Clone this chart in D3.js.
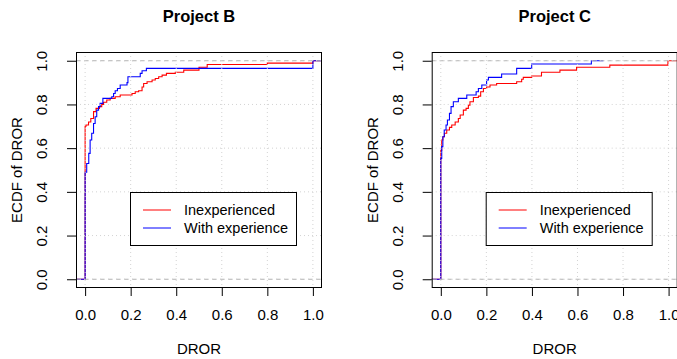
<!DOCTYPE html>
<html>
<head>
<meta charset="utf-8">
<script src="https://cdn.jsdelivr.net/npm/d3@7"></script>
<style>
body { margin: 0; background: #fff; }
svg { display: block; font-family: "Liberation Sans", Arial, sans-serif; }
.tick-label { font-size: 15px; fill: #000; }
.axis-title { font-size: 15px; fill: #000; }
.main-title { font-size: 16.5px; font-weight: bold; fill: #000; }
.leg-text { font-size: 14.5px; fill: #000; }
</style>
</head>
<body>
<svg width="677" height="359"></svg>
<script>
// step positions (DROR) and ECDF level after each step
const projB_inexp_x = [0, 0.004, 0.015, 0.025, 0.037, 0.048, 0.063, 0.073, 0.081, 0.095, 0.11, 0.132, 0.154, 0.206, 0.22, 0.235, 0.25, 0.257, 0.272, 0.294, 0.308, 0.323, 0.338, 0.357, 0.396, 0.433, 0.50, 0.536, 0.80, 1.0]
const projB_inexp_f = [0.70, 0.706, 0.72, 0.736, 0.767, 0.782, 0.79, 0.80, 0.81, 0.82, 0.828, 0.835, 0.843, 0.85, 0.858, 0.863, 0.88, 0.896, 0.904, 0.912, 0.919, 0.927, 0.934, 0.942, 0.947, 0.957, 0.97, 0.983, 0.989, 1.0]
const projB_exp_x = [0, 0.007, 0.016, 0.022, 0.029, 0.037, 0.044, 0.051, 0.059, 0.066, 0.078, 0.117, 0.125, 0.132, 0.142, 0.154, 0.184, 0.188, 0.242, 0.25, 0.269, 1.0]
const projB_exp_f = [0.49, 0.53, 0.576, 0.637, 0.668, 0.713, 0.744, 0.774, 0.79, 0.805, 0.828, 0.835, 0.85, 0.863, 0.873, 0.889, 0.90, 0.927, 0.942, 0.954, 0.965, 1.0]

const projC_inexp_x = [0, 0.004, 0.009, 0.016, 0.026, 0.038, 0.048, 0.063, 0.077, 0.085, 0.099, 0.111, 0.121, 0.128, 0.143, 0.165, 0.175, 0.187, 0.201, 0.216, 0.245, 0.333, 0.355, 0.362, 0.399, 0.442, 0.523, 0.596, 0.742, 0.997]
const projC_inexp_f = [0.59, 0.637, 0.652, 0.668, 0.683, 0.695, 0.706, 0.72, 0.736, 0.752, 0.774, 0.782, 0.797, 0.812, 0.832, 0.838, 0.858, 0.873, 0.88, 0.889, 0.896, 0.904, 0.915, 0.924, 0.93, 0.947, 0.957, 0.97, 0.98, 1.0]
const projC_exp_x = [0, 0.004, 0.009, 0.015, 0.023, 0.029, 0.038, 0.045, 0.055, 0.077, 0.114, 0.155, 0.165, 0.18, 0.201, 0.209, 0.267, 0.333, 0.399, 0.661]
const projC_exp_f = [0.553, 0.607, 0.652, 0.683, 0.706, 0.729, 0.759, 0.79, 0.812, 0.828, 0.843, 0.858, 0.873, 0.889, 0.912, 0.924, 0.939, 0.965, 0.985, 1.0]

const ticks = [0, 0.2, 0.4, 0.6, 0.8, 1.0]
const seriesNames = ['Inexperienced', 'With experience']
const seriesColors = ['#ff0000', '#0000ff']

const panels = [
	{title: 'Project B', left: 76, series: [[projB_inexp_x, projB_inexp_f], [projB_exp_x, projB_exp_f]]},
	{title: 'Project C', left: 431.7, series: [[projC_inexp_x, projC_inexp_f], [projC_exp_x, projC_exp_f]]}
]

const plotW = 246, plotTop = 52, plotBottom = 288

const svg = d3.select('svg')

panels.forEach((p, pi) => {
	const x = d3.scaleLinear().domain([-0.04, 1.04]).range([p.left, p.left + plotW])
	const y = d3.scaleLinear().domain([-0.04, 1.04]).range([plotBottom, plotTop])
	const g = svg.append('g')

	g.append('clipPath').attr('id', 'clip' + pi)
		.append('rect')
		.attr('x', p.left).attr('y', plotTop)
		.attr('width', plotW).attr('height', plotBottom - plotTop)

	// ecdf step curves
	const line = d3.line()
		.curve(d3.curveStepAfter)
		.x(d => x(d[0]))
		.y(d => y(d[1]))
	p.series.forEach((s, si) => {
		const xs = s[0], fs = s[1]
		const dr = 0.08 * (d3.max(xs) - d3.min(xs))
		const pts = [[xs[0] - dr, 0]]
		xs.forEach((v, i) => pts.push([v, fs[i]]))
		pts.push([d3.max(xs) + dr, fs[fs.length - 1]])
		g.append('path')
			.attr('clip-path', `url(#clip${pi})`)
			.attr('d', line(pts))
			.attr('fill', 'none')
			.attr('stroke', seriesColors[si])
			.attr('stroke-width', 1.1)
	})

	// h lines at 0 and 1
	g.selectAll('.hl').data([0, 1]).enter().append('line')
		.attr('clip-path', `url(#clip${pi})`)
		.attr('x1', p.left).attr('x2', p.left + plotW)
		.attr('y1', d => y(d)).attr('y2', d => y(d))
		.attr('stroke', '#b3b3b3')
		.attr('stroke-dasharray', '4,4')

	// grid
	g.selectAll('.gx').data(ticks).enter().append('line')
		.attr('x1', d => x(d)).attr('x2', d => x(d))
		.attr('y1', plotTop).attr('y2', plotBottom)
		.attr('stroke', '#d3d3d3')
		.attr('stroke-dasharray', '1,3')
	g.selectAll('.gy').data(ticks).enter().append('line')
		.attr('x1', p.left).attr('x2', p.left + plotW)
		.attr('y1', d => y(d)).attr('y2', d => y(d))
		.attr('stroke', '#d3d3d3')
		.attr('stroke-dasharray', '1,3')

	// box
	g.append('rect')
		.attr('x', p.left + 0.5).attr('y', plotTop + 0.5)
		.attr('width', plotW - 1).attr('height', plotBottom - plotTop - 1)
		.attr('fill', 'none')
		.attr('stroke', '#000')

	// x axis
	const xa = g.append('g')
		.attr('transform', `translate(0,${plotBottom})`)
		.call(d3.axisBottom(x).tickValues(ticks).tickFormat(d3.format('.1f')).tickSize(8).tickSizeOuter(0))
	xa.select('.domain').remove()
	xa.attr('font-size', null).attr('font-family', null)
	xa.selectAll('text').attr('class', 'tick-label').attr('y', 32).attr('dy', null).attr('fill', null)

	// y axis
	const ya = g.append('g')
		.attr('transform', `translate(${p.left},0)`)
		.call(d3.axisLeft(y).tickValues(ticks).tickFormat(d3.format('.1f')).tickSize(9).tickSizeOuter(0))
	ya.select('.domain').remove()
	ya.attr('font-size', null).attr('font-family', null)
	ya.selectAll('text')
		.attr('class', 'tick-label')
		.attr('x', null).attr('dy', null).attr('fill', null)
		.attr('text-anchor', 'middle')
		.attr('transform', 'translate(-29,0) rotate(-90)')
	svg.selectAll('.tick line').attr('stroke', '#000')

	// titles
	g.append('text').attr('class', 'main-title')
		.attr('x', p.left + plotW / 2).attr('y', 22)
		.attr('text-anchor', 'middle').text(p.title)
	g.append('text').attr('class', 'axis-title')
		.attr('x', p.left + plotW / 2).attr('y', 354)
		.attr('text-anchor', 'middle').text('DROR')
	g.append('text').attr('class', 'axis-title')
		.attr('transform', `translate(${p.left - 54},${(plotTop + plotBottom) / 2}) rotate(-90)`)
		.attr('text-anchor', 'middle').text('ECDF of DROR')

	// legend
	const lg = g.append('g').attr('transform', `translate(${p.left + 54},192)`)
	lg.append('rect')
		.attr('x', 0.5).attr('y', 0.5)
		.attr('width', 166).attr('height', 53)
		.attr('fill', '#fff').attr('stroke', '#000')
	seriesNames.forEach((n, i) => {
		lg.append('line')
			.attr('x1', 13).attr('x2', 41)
			.attr('y1', 18 + i * 18).attr('y2', 18 + i * 18)
			.attr('stroke', seriesColors[i])
		lg.append('text').attr('class', 'leg-text')
			.attr('x', 54).attr('y', 23 + i * 18).text(n)
	})
})
</script>
</body>
</html>
